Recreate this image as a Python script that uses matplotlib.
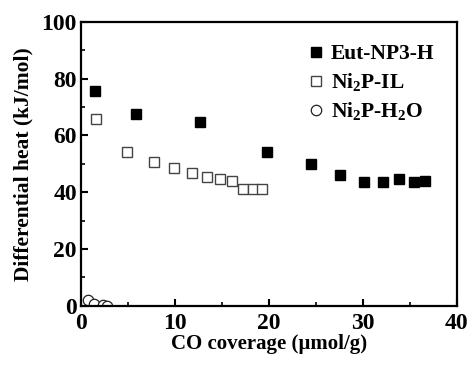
import numpy as np
import matplotlib.pyplot as plt
from matplotlib.ticker import MultipleLocator

# data
eut_x = [1.5, 5.85, 12.7, 19.75, 24.5, 27.6, 30.1, 32.1, 33.9, 35.4, 36.6]
eut_y = [75.8, 67.7, 64.9, 54.3, 49.8, 46.2, 43.5, 43.5, 44.7, 43.5, 44.0]

il_x = [1.6, 4.87, 7.74, 9.94, 11.8, 13.4, 14.8, 16.1, 17.3, 18.35, 19.3]
il_y = [65.9, 54.1, 50.5, 48.4, 46.8, 45.4, 44.6, 44.1, 41.3, 41.1, 41.1]

h2o_x = [0.8, 1.4, 2.35, 2.8]
h2o_y = [2.2, 0.6, 0.3, 0.1]

plt.rcParams["font.family"] = "Liberation Serif"
plt.rcParams["font.weight"] = "bold"
plt.rcParams["mathtext.fontset"] = "custom"
plt.rcParams["mathtext.rm"] = "Liberation Serif:bold"
plt.rcParams["mathtext.default"] = "rm"

fig = plt.figure(figsize=(4.68, 3.65), dpi=100)
ax = fig.add_axes([0.173, 0.162, 0.803, 0.778])

ax.plot(eut_x, eut_y, 's', ms=7.5, mfc='black', mec='black', label='Eut-NP3-H')
ax.plot(il_x, il_y, 's', ms=7.5, mfc='white', mec='#444444', mew=1.0, label='Ni$_2$P-IL')
ax.plot(h2o_x, h2o_y, 'o', ms=7.5, mfc='white', mec='#222222', mew=0.9, label='Ni$_2$P-H$_2$O')

ax.set_xlim(0, 40)
ax.set_ylim(0, 100)
ax.xaxis.set_major_locator(MultipleLocator(10))
ax.xaxis.set_minor_locator(MultipleLocator(5))
ax.yaxis.set_major_locator(MultipleLocator(20))
ax.yaxis.set_minor_locator(MultipleLocator(10))
ax.tick_params(which='major', direction='in', length=5, width=1.5, labelsize=17)
ax.tick_params(axis='x', which='major', pad=5)
ax.tick_params(axis='y', which='major', pad=3)
ax.tick_params(which='minor', direction='in', length=3, width=1.2)
for s in ax.spines.values():
    s.set_linewidth(1.6)

ax.set_xlabel('CO coverage (µmol/g)', fontsize=15, fontweight='bold', labelpad=0)
ax.set_ylabel('Differential heat (kJ/mol)', fontsize=15.5, fontweight='bold', labelpad=6)

ax.legend(loc='upper right', bbox_to_anchor=(0.98, 0.975), frameon=False, fontsize=15.5,
          handletextpad=0.1, labelspacing=0.33, borderaxespad=0.3, handlelength=1.2)

fig.savefig('out.png', dpi=100)
